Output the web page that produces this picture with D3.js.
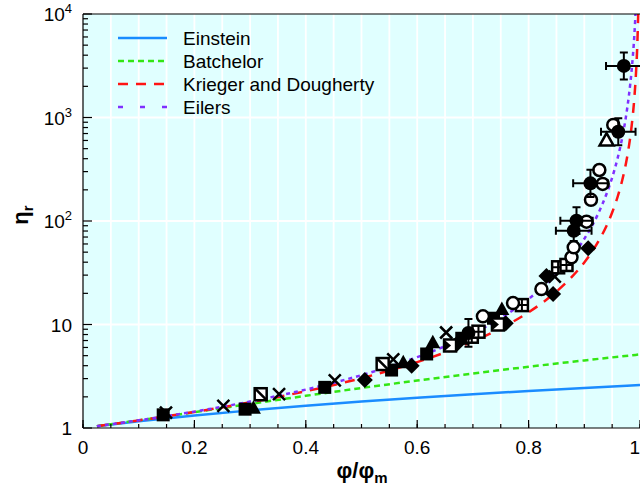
<!DOCTYPE html>
<html><head><meta charset="utf-8">
<script src="https://cdn.jsdelivr.net/npm/d3@7"></script>
<style>
body{margin:0;background:#fff;}
svg{display:block;font-family:"Liberation Sans",Arial,Helvetica,sans-serif;}
</style>
</head><body>
<svg id="chart" width="640" height="493"></svg>
<script>
// ---- model curves: relative viscosity vs reduced volume fraction ----
const einsteinX  = [0.025, 0.1, 0.2, 0.3, 0.4, 0.5, 0.6, 0.7, 0.8, 0.9, 1.0];
const einsteinY  = [1.04, 1.16, 1.32, 1.48, 1.64, 1.80, 1.96, 2.12, 2.28, 2.44, 2.60];
const batchelorX = [0.025, 0.1, 0.2, 0.3, 0.4, 0.5, 0.6, 0.7, 0.8, 0.9, 1.0];
const batchelorY = [1.042, 1.185, 1.422, 1.709, 2.046, 2.435, 2.874, 3.364, 3.905, 4.497, 5.140];
const kdX = [0.025, 0.1, 0.2, 0.3, 0.4, 0.5, 0.55, 0.6, 0.65, 0.7, 0.75, 0.8, 0.825, 0.85, 0.875, 0.9,
             0.925, 0.94, 0.95, 0.96, 0.97, 0.975, 0.98, 0.985, 0.99, 0.993, 0.995, 0.997];
const kdY = [1.041, 1.184, 1.429, 1.770, 2.264, 3.031, 3.588, 4.332, 5.364, 6.864, 9.190, 13.13, 16.26, 20.81, 27.86, 39.81,
             63.07, 90.15, 120.7, 172.5, 273.3, 365.7, 522.9, 828.4, 1585, 2805, 4800, 10900];
const eilersX = [0.025, 0.1, 0.2, 0.3, 0.4, 0.5, 0.55, 0.6, 0.65, 0.7, 0.75, 0.8, 0.825, 0.85, 0.875, 0.9,
                 0.925, 0.94, 0.95, 0.96, 0.97, 0.975, 0.98, 0.985, 0.99, 0.993];
const eilersY = [1.041, 1.186, 1.44, 1.803, 2.351, 3.24, 3.912, 4.84, 6.179, 8.218, 11.56, 17.64, 22.77, 30.62, 43.56, 67.24,
                 118.1, 183.1, 262.4, 408.0, 721.8, 1037, 1616, 2866, 6432, 13108];

// ---- measured suspensions ----
const filledSquareX = [0.144, 0.291, 0.434, 0.554, 0.617, 0.680, 0.737];
const filledSquareY = [1.34, 1.52, 2.47, 3.63, 5.19, 7.36, 11.5];
const filledTriangleX = [0.306, 0.575, 0.628, 0.752];
const filledTriangleY = [1.55, 4.27, 6.67, 14.0];
const diamondX = [0.506, 0.590, 0.671, 0.759, 0.844, 0.832, 0.907];
const diamondY = [2.91, 4.00, 6.48, 10.3, 19.7, 29.4, 54.5];
const crossX = [0.149, 0.252, 0.352, 0.452, 0.557, 0.652, 0.847];
const crossY = [1.41, 1.64, 2.12, 2.89, 4.61, 8.37, 29.0];
const slashSquareX = [0.319, 0.538];
const slashSquareY = [2.12, 4.15];
const gridSquareX = [0.698, 0.710, 0.788, 0.853, 0.868];
const gridSquareY = [7.62, 8.52, 15.4, 35.7, 37.6];
const notchSquareX = [0.659, 0.745];
const notchSquareY = [6.27, 10.0];
const openCircleX = [0.718, 0.772, 0.823, 0.877, 0.881, 0.904, 0.912, 0.933, 0.927, 0.952];
const openCircleY = [12.0, 16.1, 22.0, 44.6, 55.7, 98.5, 160, 228, 311, 847];
const openTriangleX = [0.940];
const openTriangleY = [605];
const errX    = [0.692, 0.881, 0.886, 0.911, 0.961, 0.971];
const errY    = [8.28, 80.5, 100.7, 231, 729, 3150];
const errXLo  = [0.692, 0.849, 0.857, 0.880, 0.930, 0.939];
const errXHi  = [0.692, 0.913, 0.915, 0.942, 0.992, 1.003];
const errYLo  = [6.1, 64, 75, 171, 540, 2330];
const errYHi  = [11.3, 100, 136, 312, 985, 4250];

// ---- axes ----
const xMajor = [0, 0.2, 0.4, 0.6, 0.8, 1];
const xMajorLabels = ["0", "0.2", "0.4", "0.6", "0.8", "1"];
const xMinor = d3.range(0, 1.0001, 0.05);
const yMajor = [1, 10, 100, 1000, 10000];
const yMajorBase = ["1", "10", "10", "10", "10"];
const yMajorExp  = ["", "", "2", "3", "4"];
const yMinor = [1, 10, 100, 1000].flatMap(d => [2,3,4,5,6,7,8,9].map(k => k * d));
const xGrid = d3.range(0.05, 1.0001, 0.05);
const yGrid = [10, 100, 1000];

const legendNames = ["Einstein", "Batchelor", "Krieger and Dougherty", "Eilers"];

const L = 83, R = 640, T = 14, B = 428;
const svg = d3.select("#chart");
const x = d3.scaleLinear().domain([0, 1]).range([L, R]);
const y = d3.scaleLog().domain([1, 10000]).range([B, T]);

// plot background and grid
svg.append("rect").attr("x", L).attr("y", T).attr("width", 700).attr("height", B - T).attr("fill", "#e0ffff");
svg.append("g").selectAll("line").data(xGrid).join("line")
  .attr("x1", d => x(d)).attr("x2", d => x(d)).attr("y1", T).attr("y2", B)
  .attr("stroke", "#fff").attr("stroke-width", 1.8);
svg.append("g").selectAll("line").data(yGrid).join("line")
  .attr("x1", L).attr("x2", 700).attr("y1", d => y(d)).attr("y2", d => y(d))
  .attr("stroke", "#fff").attr("stroke-width", 1.8);

svg.append("defs").append("clipPath").attr("id", "plotclip")
  .append("rect").attr("x", L).attr("y", T).attr("width", 700).attr("height", B - T);

// model curves
const line = d3.line().x(d => x(d[0])).y(d => y(d[1])).curve(d3.curveMonotoneX);
const zip = (a, b) => a.map((v, i) => [v, b[i]]);
const models = [
  {xs: einsteinX, ys: einsteinY, color: "#1a8cff", dash: null, ldash: null},
  {xs: batchelorX, ys: batchelorY, color: "#33e614", dash: "6,4", ldash: "6,4"},
  {xs: kdX, ys: kdY, color: "#ff1414", dash: "10,8", ldash: "10,8"},
  {xs: eilersX, ys: eilersY, color: "#8030ff", dash: "4,4", ldash: "5,17"}
];
const curves = svg.append("g").attr("clip-path", "url(#plotclip)");
models.forEach(m => {
  curves.append("path").attr("d", line(zip(m.xs, m.ys)))
    .attr("fill", "none").attr("stroke", m.color).attr("stroke-width", 2.5)
    .attr("stroke-dasharray", m.dash);
});

// axes frame and ticks
const ax = svg.append("g").attr("stroke", "#000").attr("stroke-width", 1.2);
ax.append("line").attr("x1", L).attr("x2", 700).attr("y1", B).attr("y2", B);
ax.append("line").attr("x1", L).attr("x2", 700).attr("y1", T).attr("y2", T);
ax.append("line").attr("x1", L).attr("x2", L).attr("y1", T).attr("y2", B);
ax.selectAll(".xm").data(xMinor).join("line")
  .attr("x1", d => x(d)).attr("x2", d => x(d)).attr("y1", B).attr("y2", B - 4);
ax.selectAll(".xM").data(xMajor).join("line")
  .attr("x1", d => x(d)).attr("x2", d => x(d)).attr("y1", B).attr("y2", B - 8);
ax.selectAll(".ym").data(yMinor).join("line")
  .attr("x1", L).attr("x2", L + 5).attr("y1", d => y(d)).attr("y2", d => y(d));
ax.selectAll(".yM").data(yMajor).join("line")
  .attr("x1", L).attr("x2", L + 9).attr("y1", d => y(d)).attr("y2", d => y(d));

// the last label sits at the window edge, so it is anchored at its right side
svg.append("g").selectAll("text").data(xMajor).join("text")
  .attr("x", d => d === 1 ? 640 : x(d)).attr("y", 454)
  .attr("text-anchor", d => d === 1 ? "end" : "middle")
  .attr("font-size", 19).text((d, i) => xMajorLabels[i]);

const yl = svg.append("g").selectAll("text").data(yMajor).join("text")
  .attr("x", 72).attr("y", d => y(d) + 7).attr("text-anchor", "end").attr("font-size", 19);
yl.append("tspan").text((d, i) => yMajorBase[i]);
yl.append("tspan").attr("font-size", 13).attr("dy", -8).text((d, i) => yMajorExp[i]);

// axis titles
const xt = svg.append("text").attr("x", 362).attr("y", 478).attr("text-anchor", "middle")
  .attr("font-size", 22).attr("font-weight", "bold");
xt.append("tspan").text("φ/φ");
xt.append("tspan").attr("font-size", 15).attr("dy", 5).text("m");
const yt = svg.append("text").attr("transform", "translate(28,215) rotate(-90)")
  .attr("text-anchor", "middle").attr("font-size", 22).attr("font-weight", "bold");
yt.append("tspan").text("η");
yt.append("tspan").attr("font-size", 15).attr("dy", 5).text("r");

// legend
const lg = svg.append("g");
models.forEach((m, i) => {
  const ly = 38 + i * 23;
  lg.append("line").attr("x1", 118).attr("x2", 167).attr("y1", ly).attr("y2", ly)
    .attr("stroke", m.color).attr("stroke-width", 2.5).attr("stroke-dasharray", m.ldash);
  lg.append("text").attr("x", 183).attr("y", ly + 7).attr("font-size", 19).text(legendNames[i]);
});

// data markers
const mk = svg.append("g").attr("stroke-linejoin", "miter");
const sw = 2.5;
function pts(xs, ys) { return xs.map((v, i) => [x(v), y(ys[i])]); }

pts(crossX, crossY).forEach(([cx, cy]) => {
  mk.append("path").attr("d", `M${cx-6},${cy-6}L${cx+6},${cy+6}M${cx-6},${cy+6}L${cx+6},${cy-6}`)
    .attr("stroke", "#000").attr("stroke-width", sw).attr("fill", "none");
});
pts(filledSquareX, filledSquareY).forEach(([cx, cy]) => {
  mk.append("rect").attr("x", cx - 6.5).attr("y", cy - 6.5).attr("width", 13).attr("height", 13).attr("fill", "#000");
});
pts(filledTriangleX, filledTriangleY).forEach(([cx, cy]) => {
  mk.append("path").attr("d", `M${cx},${cy-8}L${cx+7.5},${cy+5.5}L${cx-7.5},${cy+5.5}Z`).attr("fill", "#000");
});
pts(diamondX, diamondY).forEach(([cx, cy]) => {
  mk.append("path").attr("d", `M${cx},${cy-8}L${cx+8},${cy}L${cx},${cy+8}L${cx-8},${cy}Z`).attr("fill", "#000");
});
pts(slashSquareX, slashSquareY).forEach(([cx, cy]) => {
  mk.append("rect").attr("x", cx - 6).attr("y", cy - 6).attr("width", 12).attr("height", 12)
    .attr("fill", "#fff").attr("stroke", "#000").attr("stroke-width", sw);
  mk.append("path").attr("d", `M${cx-6},${cy-6}L${cx+6},${cy+6}`).attr("stroke", "#000").attr("stroke-width", sw);
});
pts(notchSquareX, notchSquareY).forEach(([cx, cy]) => {
  mk.append("rect").attr("x", cx - 6).attr("y", cy - 6).attr("width", 12).attr("height", 12)
    .attr("fill", "#fff").attr("stroke", "#000").attr("stroke-width", sw);
  mk.append("path").attr("d", `M${cx-6},${cy-6}L${cx+1},${cy}L${cx-6},${cy+6}Z`).attr("fill", "#000");
});
pts(gridSquareX, gridSquareY).forEach(([cx, cy]) => {
  mk.append("rect").attr("x", cx - 6).attr("y", cy - 6).attr("width", 12).attr("height", 12)
    .attr("fill", "#fff").attr("stroke", "#000").attr("stroke-width", sw);
  mk.append("path").attr("d", `M${cx},${cy-6}L${cx},${cy+6}M${cx-6},${cy}L${cx+6},${cy}`)
    .attr("stroke", "#000").attr("stroke-width", 2);
});
pts(openCircleX, openCircleY).forEach(([cx, cy]) => {
  mk.append("circle").attr("cx", cx).attr("cy", cy).attr("r", 6)
    .attr("fill", "#fff").attr("stroke", "#000").attr("stroke-width", sw);
});
pts(openTriangleX, openTriangleY).forEach(([cx, cy]) => {
  mk.append("path").attr("d", `M${cx},${cy-7}L${cx+7},${cy+5.5}L${cx-7},${cy+5.5}Z`)
    .attr("fill", "#fff").attr("stroke", "#000").attr("stroke-width", sw);
});
errX.forEach((v, i) => {
  const cx = x(v), cy = y(errY[i]);
  const xl = x(errXLo[i]), xh = x(errXHi[i]), yl2 = y(errYLo[i]), yh = y(errYHi[i]);
  let d = `M${cx},${yl2}L${cx},${yh}M${cx-4},${yh}L${cx+4},${yh}M${cx-4},${yl2}L${cx+4},${yl2}`;
  if (xh - xl > 1) d += `M${xl},${cy}L${xh},${cy}M${xl},${cy-4}L${xl},${cy+4}M${xh},${cy-4}L${xh},${cy+4}`;
  mk.append("path").attr("d", d).attr("stroke", "#000").attr("stroke-width", 2).attr("fill", "none");
  mk.append("circle").attr("cx", cx).attr("cy", cy).attr("r", 7).attr("fill", "#000");
});
</script>
</body></html>
